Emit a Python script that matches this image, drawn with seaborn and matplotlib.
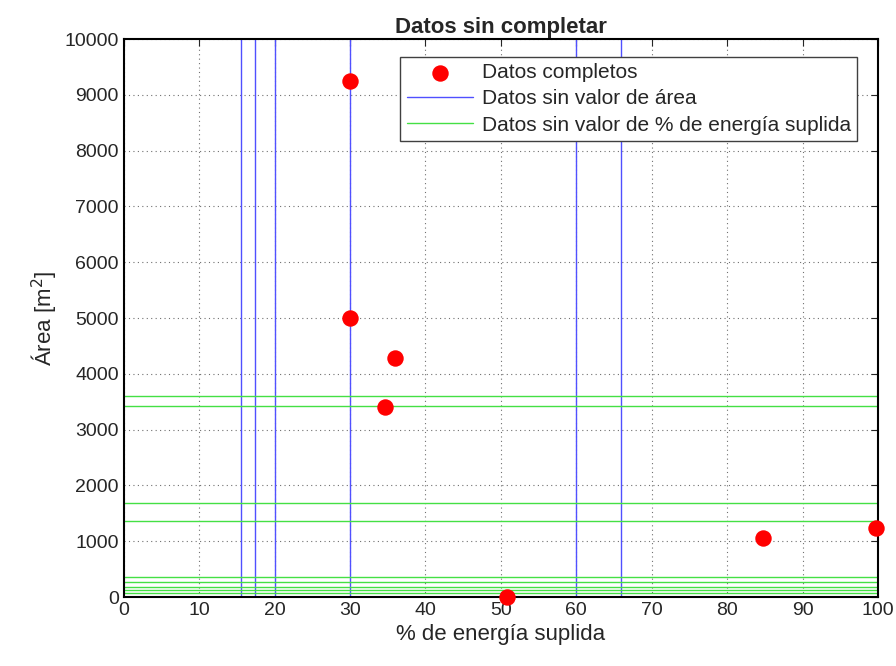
import numpy as np
import pandas as pd
import matplotlib.pyplot as plt
import seaborn as sns

# datos completos (% energia, area)
energia = [30.0, 30.0, 36.0, 34.6, 50.8, 84.8, 99.7]
area = [9240, 5000, 4285, 3405, 0, 1060, 1231]

# datos sin valor de area (solo % energia)
energia_sin_area = [15.5, 17.4, 20.1, 30.0, 59.9, 65.9]

# datos sin valor de % energia (solo area)
area_sin_energia = [3600, 3425, 1680, 1357, 353, 263, 185, 125, 66]

df = pd.DataFrame({"energia": energia, "area": area})

sns.set_style("white")
plt.rcParams['font.family'] = ['Liberation Sans', 'DejaVu Sans']

fig = plt.figure(figsize=(8.96, 6.66), dpi=100)
ax = fig.add_axes([0.138, 0.1036, 0.842, 0.8378])

ax.grid(True, color='#707070', linestyle=(0, (1, 3)), linewidth=0.8)
ax.set_axisbelow(True)

for i, x in enumerate(energia_sin_area):
    ax.axvline(x, color='#5050ff', linewidth=1.0,
               label='Datos sin valor de área' if i == 0 else None, zorder=2)
for i, y in enumerate(area_sin_energia):
    ax.axhline(y, color='#44e044', linewidth=1.0,
               label='Datos sin valor de % de energía suplida' if i == 0 else None, zorder=2)

sns.scatterplot(data=df, x='energia', y='area', ax=ax, color='red', s=140,
                edgecolor='red', linewidth=0, label='Datos completos', zorder=3, clip_on=False)

ax.set_xlim(0, 100)
ax.set_ylim(0, 10000)
ax.set_xticks(np.arange(0, 101, 10))
ax.set_yticks(np.arange(0, 10001, 1000))
ax.tick_params(direction='in', labelsize=14, length=5, top=True, right=True)
for s in ax.spines.values():
    s.set_color('black')
    s.set_linewidth(1.5)

ax.set_title('Datos sin completar', fontsize=16, fontweight='bold', pad=4)
ax.set_xlabel('% de energía suplida', fontsize=16)
ax.set_ylabel('Área [m$^2$]', fontsize=16)

handles, labels = ax.get_legend_handles_labels()
order = [labels.index('Datos completos'), labels.index('Datos sin valor de área'),
         labels.index('Datos sin valor de % de energía suplida')]
leg = ax.legend([handles[i] for i in order], [labels[i] for i in order],
                loc='upper right', bbox_to_anchor=(0.972, 0.968), fontsize=15,
                fancybox=False, framealpha=1, edgecolor='#404040',
                handlelength=3.2, handletextpad=0.4, borderpad=0.3,
                borderaxespad=0, labelspacing=0.35)
leg.get_frame().set_linewidth(1.0)

fig.savefig('out.png', dpi=100)
